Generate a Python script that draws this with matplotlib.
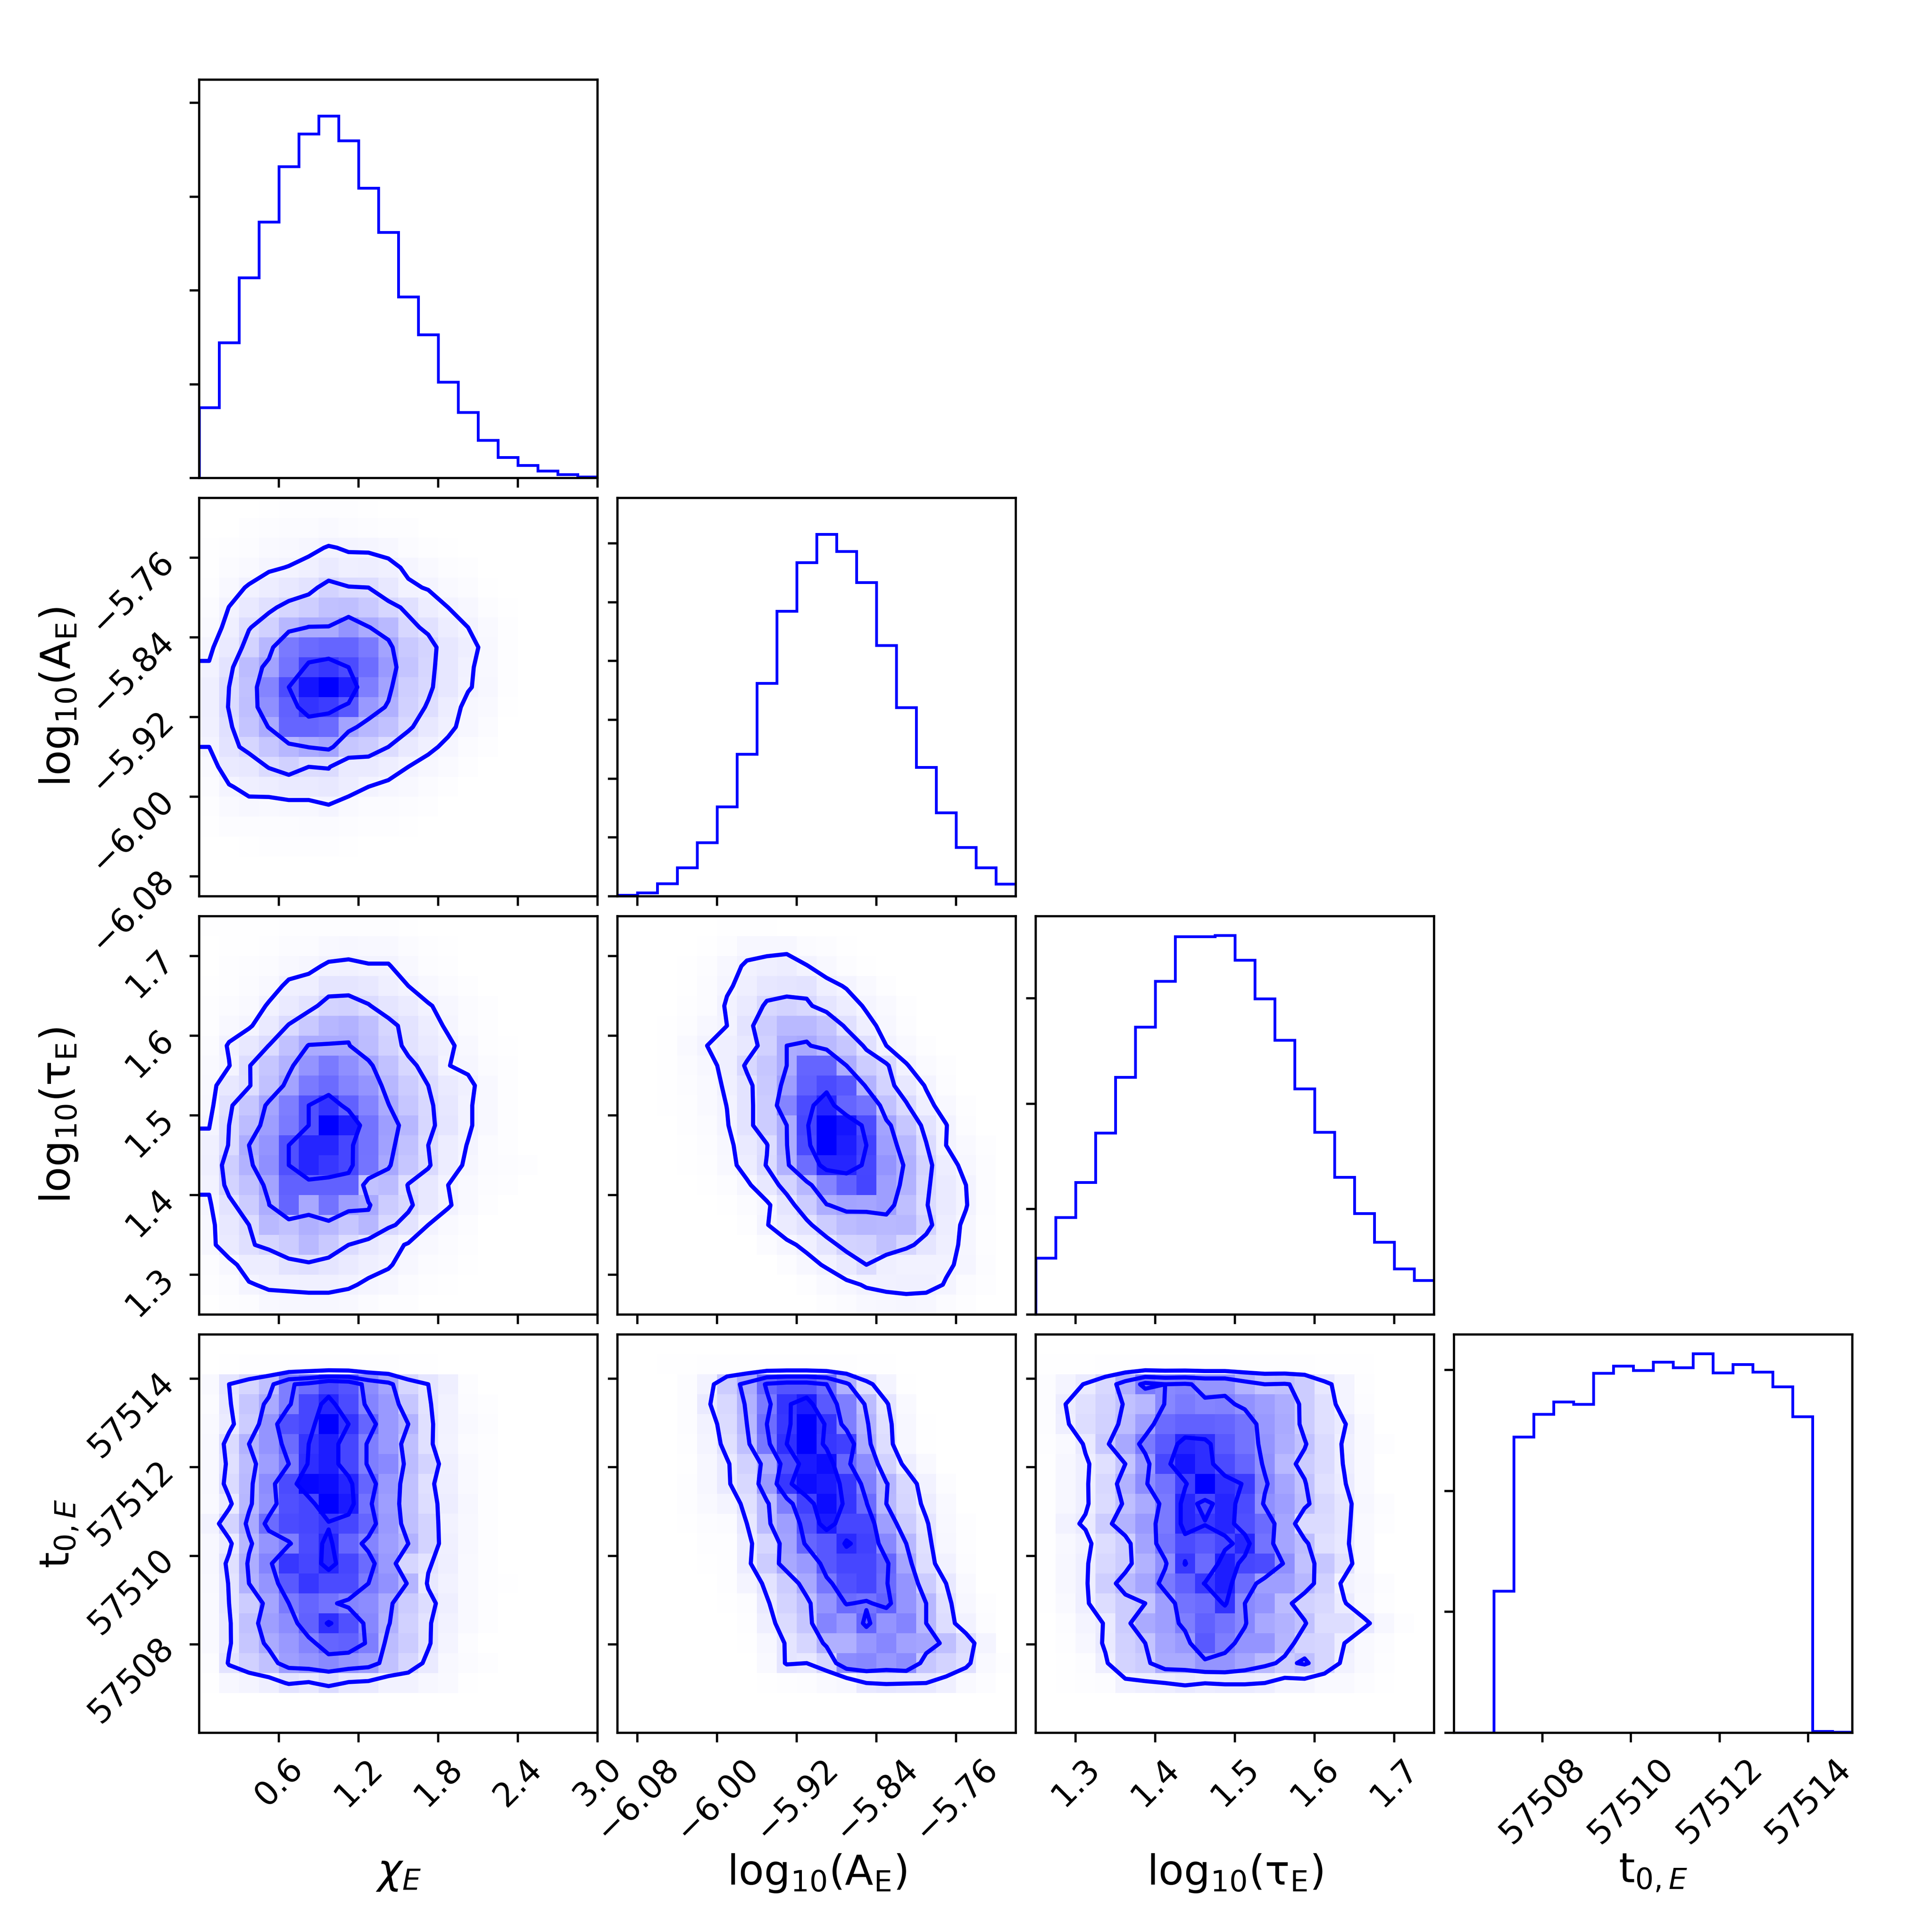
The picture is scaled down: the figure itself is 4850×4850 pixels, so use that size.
"""
Corner plot of the four event parameters: step histograms on the diagonal,
2D density cells with four contour levels below it.
"""

import numpy as np
import matplotlib
matplotlib.use("Agg")
import matplotlib.pyplot as plt
from matplotlib.colors import LinearSegmentedColormap


# -------------------------------------------------------------------
# DATA
# -------------------------------------------------------------------
labels = [r"$\chi_{E}$", r"$\mathrm{log_{10}(A_{E})}$",
          r"$\mathrm{log_{10}(\tau_{E})}$", r"$\mathrm{t}_{0,E}$"]
ranges = [(0.0, 3.0), (-6.10, -5.70), (1.25, 1.75), (57506.0, 57515.0)]
ticks = [[0.6, 1.2, 1.8, 2.4, 3.0],
         [-6.08, -6.00, -5.92, -5.84, -5.76],
         [1.3, 1.4, 1.5, 1.6, 1.7],
         [57508, 57510, 57512, 57514]]
tick_text = [["0.6", "1.2", "1.8", "2.4", "3.0"],
             ["\u22126.08", "\u22126.00", "\u22125.92", "\u22125.84", "\u22125.76"],
             ["1.3", "1.4", "1.5", "1.6", "1.7"],
             ["57508", "57510", "57512", "57514"]]

# diagonal histograms, 20 bins each
hist_chi = [754, 1445, 2138, 2731, 3324, 3669, 3862, 3597, 3094, 2619,
            1934, 1528, 1025, 699, 403, 222, 135, 78, 40, 14]
hist_amp = [23, 64, 216, 486, 913, 1523, 2417, 3624, 4849, 5674,
            6156, 5867, 5339, 4266, 3211, 2197, 1422, 835, 486, 211]
hist_tau = [537, 923, 1253, 1724, 2251, 2726, 3164, 3586, 3586, 3596,
            3361, 2997, 2604, 2143, 1729, 1304, 959, 688, 435, 325]
hist_t0 = [0, 0, 1173, 2446, 2636, 2736, 2716, 2975, 3033, 2997,
           3068, 3022, 3135, 2977, 3046, 2986, 2863, 2614, 13, 7]
hist_top = [4248, 6772, 3778, 3294]
hist_ticks = [[0, 1000, 2000, 3000, 4000],
              [0, 1000, 2000, 3000, 4000, 5000, 6000],
              [0, 1000, 2000, 3000],
              [0, 1000, 2000, 3000]]

# 2D cells as percent of full shade, top row first, trailing zeros left out
shade_amp_chi = [
    [0, 0, 0, .3, .5, .5, .5, .5, .3],
    [0, 0, .5, 1, 1.5, 1.5, 2, 1.5, 1, .5, .5],
    [.2, .8, 1, 2, 2.5, 3.5, 4.7, 4, 3.8, 3, 1.5, .8, .3],
    [.3, 1.5, 2, 3.8, 4.6, 5.7, 8, 6, 6.5, 5.8, 3.6, 2, 1, .4],
    [.6, 2.5, 5, 7, 9, 11, 17, 14, 13.5, 9, 5.1, 4.1, 2, 1.5, .3],
    [1.2, 4.5, 8.5, 12, 16, 19, 24, 25, 21, 16, 12, 7, 4.4, 3, 1, .3],
    [2.2, 6, 13, 18, 28, 33, 33, 42, 33, 27, 15.8, 11.8, 7, 4.4, 2, .6],
    [3.6, 8, 17, 28, 52, 58, 60, 60, 52, 36, 21, 16.8, 9.5, 6.5, 2.8, .8],
    [4.8, 11, 26, 36, 55, 74, 78, 70, 57, 40, 23, 16, 9.2, 5.2, 2.7, .6],
    [6, 13.5, 24, 48, 70, 92, 100, 88, 50, 36, 19, 15, 9.2, 4.8, 2.9, .5],
    [6, 14, 25, 44, 62, 80, 76, 66, 40, 31, 18, 12.7, 7, 3.2, 2, .3],
    [5.5, 12, 23, 33, 60, 60, 58, 36, 28, 24, 15, 9, 5.5, 2.9, 1.2],
    [4.4, 11, 16, 22, 28, 33, 36, 22, 20, 13.5, 8.5, 5.5, 3.4, 1.5, .5],
    [2.2, 8, 9, 14, 18, 13.5, 14, 8, 8, 6.5, 4.4, 2.9, 1.8, .6],
    [1.5, 4, 6, 7, 8, 8, 9, 7, 4.4, 3.5, 2.5, 1.5, .8],
    [.7, 2, 3, 2.5, 3, 3, 4, 2.3, 1.5, 1.5, 1, .6],
    [.3, 1, 1, 1, 1, 1.5, 1.5, 1, .5, .5, .3],
    [0, 0, .3, .5, .5, .5, .5, .3],
    [],
    [],
]
shade_tau_chi = [
    [.1, .1, .1, .3, .5, .5, .8, .8, .5, .5, .3],
    [0, .1, .3, .6, 1.5, 1.5, 2.5, 3, 2.5, 2.5, 1.5, .6, .2],
    [0, .5, 1, 1.5, 2.5, 3.5, 5, 5.2, 4.7, 4.7, 2.5, 1, .5],
    [.3, .8, 1.5, 2.5, 5.5, 6, 10, 10, 9, 6, 4.4, 2.5, 1.5, .4],
    [.5, 1.2, 2, 5, 8, 11, 17, 18, 14, 10, 7.5, 4.8, 3, 1.5, .5],
    [.8, 2.5, 3.8, 8, 14, 21, 28, 30, 25, 16, 11, 7, 3.6, 1.5, .5],
    [1.5, 4.9, 9, 13.6, 24, 33, 33, 33, 26, 18, 11.5, 8, 5.5, 2.5, .8, .3],
    [2, 4.2, 13, 22, 30, 42, 52, 44, 35, 24, 15.5, 11, 4.5, 3.5, 1.2, .5],
    [2.5, 9, 12.8, 24, 36, 52, 58, 48, 42, 28, 20, 13.5, 8, 5.6, 2.5, .8],
    [3, 12, 22, 35, 50, 68, 80, 62, 48, 33, 22, 15, 9.5, 5, 2.5, .8],
    [4.2, 13.5, 26, 38, 52, 68, 100, 88, 55, 38, 28, 15.5, 10, 5, 2.5, .8],
    [5.5, 14, 32.5, 42, 68, 85, 85, 72, 55, 37, 24, 13.5, 7, 4.2, 1.5, .5],
    [6, 19, 30, 44, 68, 85, 78, 72, 54, 34, 22, 14.5, 7, 3.5, 1.5, 1, .5],
    [5, 17, 24, 36, 62, 62, 62, 62, 24, 26, 13, 9, 4.4, 2, 1, .5],
    [3.8, 11, 20, 32, 60, 34, 55, 38, 34, 20, 15, 9, 5, 2, .5],
    [3, 9, 13.5, 27, 24, 31, 27.6, 22, 28, 15, 11, 4.4, 2, 1],
    [3, 8, 12.5, 16, 20, 27, 21, 13.5, 9, 6.5, 3.9, 2.5, 1.5, .5],
    [1, 3, 7, 7, 11, 12, 10, 8, 6, 4.8, 3, 1.5, 1, .3],
    [.5, 1.2, 4, 5.2, 5.2, 5.5, 5.5, 5, 3.7, 3, 1.5, .8, .3],
    [0, .5, 1, 2.5, 3, 3, 3, 2.5, 1.5, .8, .4],
]
shade_tau_amp = [
    [0, 0, 0, 0, 0, .3, .3, .3],
    [0, 0, 0, 0, .3, 1, 3, 3, 3, 1.5, 1, .3],
    [0, 0, 0, .2, 1, 3, 5, 6, 7, 4.6, 2.5, 1, .3],
    [0, 0, 0, .3, 1.5, 3.8, 6, 9.5, 10, 11, 6, 4, 2, .8],
    [0, 0, 0, .5, 1.5, 5, 8, 15, 17, 15, 10, 7, 3.8, 2, .5],
    [0, 0, .2, 1, 3, 4.4, 11, 20, 27, 27, 23, 12, 6, 3, 1],
    [0, 0, .2, 2, 4.4, 6, 9, 18, 32.5, 34, 27, 22, 12, 4.4, 2, .6],
    [0, 0, .2, 1.5, 3, 6, 15, 22, 32.5, 60, 60, 32.5, 20, 15, 4.8, 1.8, .4],
    [0, 0, .2, 1, 2, 5.5, 11, 21, 38, 62, 70, 66, 30, 17, 9, 4, 1],
    [0, 0, .1, .5, 2, 4.5, 11, 20, 48, 70, 85, 60, 55, 24, 14.5, 6, 2.5, .5],
    [0, 0, 0, .5, 1.5, 4, 11, 20, 32.5, 73, 100, 92, 70, 36, 22, 11, 4.6, 1],
    [0, 0, 0, .3, 1, 3, 8, 13, 32, 70, 100, 88, 75, 38, 28, 14, 4.4, 2, .4],
    [0, 0, 0, .2, .5, 2.5, 7, 14, 30, 57, 85, 85, 72, 42, 31, 17, 7, 3, 1],
    [0, 0, 0, 0, .2, 1, 3.5, 9, 17, 28, 48, 62, 73, 38, 30, 15, 8, 4.4, 1],
    [0, 0, 0, 0, 0, .3, 1.5, 3.5, 10, 20, 32, 36, 35, 38, 25, 14, 8, 4.7, 1],
    [0, 0, 0, 0, 0, 0, .8, 4.2, 7.5, 11.5, 20, 26, 28, 27, 28, 17, 7, 3.5, .8],
    [0, 0, 0, 0, 0, 0, 0, 1.5, 3.5, 5.5, 10, 17, 18, 24, 16, 10, 6, 3.5, .8],
    [0, 0, 0, 0, 0, 0, 0, 0, 1, 3, 5, 8, 13.5, 6, 5, 5, 4.8, 3.8, 1],
    [0, 0, 0, 0, 0, 0, 0, 0, 0, .8, 2, 3.5, 4.8, 5.3, 5.5, 5.5, 4.2, 1.5, .5],
    [0, 0, 0, 0, 0, 0, 0, 0, 0, 0, .8, 1.5, 2.5, 3, 3.3, 3, 1.2, .5],
]
shade_t0_chi = [
    [],
    [0, .3, .5, .5, .5, .8, .8, .8, .5, .4, .2, .2],
    [2, 10, 16, 25, 50, 57, 72, 67, 45, 35, 16, 10, 6, 1],
    [1.5, 9, 22, 33, 50, 72, 85, 70, 48, 40, 22, 11, 5, 1.5, .5],
    [2, 7.5, 20, 42, 68, 72, 100, 80, 60, 40, 30, 12, 5, 2, 1],
    [2.5, 14, 30, 42, 58, 80, 88, 72, 50, 40, 25, 12, 4.5, 1.5, .5],
    [2.5, 12, 26, 38, 52, 82, 88, 72, 50, 46, 26, 17, 5.5, 2, .5],
    [2.5, 14, 27, 45, 70, 97, 95, 85, 60, 40, 24, 12, 6, 2, .5],
    [2, 8, 28, 43, 68, 72, 100, 90, 55, 38, 24, 13, 7, 3, .5],
    [5, 17, 33, 58, 70, 72, 78, 72, 60, 40, 25, 17, 5, 2.5, .5],
    [3, 8, 28, 42, 50, 70, 85, 60, 48, 38, 30, 17, 5.5, 2.5, .5],
    [3, 12, 32, 48, 78, 72, 85, 72, 58, 40, 16, 11, 6, 2, .5],
    [2.5, 10.5, 30, 42, 65, 78, 70, 70, 52, 43, 29, 9, 5, 2, .5, .3],
    [2, 10, 20, 35, 52, 60, 55, 48, 45, 33, 20, 13, 6, 2, .5],
    [2, 9, 24, 38, 45, 62, 82, 68, 47, 31, 18, 11, 5, 2, .5],
    [2, 9, 22, 33, 40, 48, 60, 62, 50, 26, 20, 11, 4, 1],
    [1, 11, 18, 24, 38, 42, 46, 42, 38, 24, 16, 8, 2.5, 1.5, .5],
    [.3, 3, 4, 6, 11, 9, 14, 9, 8, 5, 5, 3, 2, .3],
    [],
    [],
]
shade_t0_amp = [
    [],
    [0, 0, .2, .3, .5, .5, .5, .5, .5, .5, .5, .5, .3, .2],
    [0, 0, 0, 1, 5, 20, 33, 60, 67, 67, 57, 31, 12, 4, .3],
    [0, 0, 0, 1, 8, 15, 30, 52, 80, 90, 65, 50, 26, 10, 2],
    [0, 0, 0, 1, 5, 14, 28, 57, 78, 100, 80, 50, 30, 12, 3, .3],
    [0, 0, 0, .5, 4, 12, 25, 53, 82, 100, 78, 75, 33, 13, 3, .3],
    [0, 0, 0, .3, 3, 8, 18, 33, 70, 90, 95, 60, 45, 18, 7, 2],
    [0, 0, 0, .5, 3, 8, 15, 40, 78, 95, 90, 78, 50, 29, 15, 5, 1],
    [0, 0, 0, .6, 2, 4, 12, 26, 50, 75, 95, 79, 58, 28, 16, 7, 2],
    [0, 0, 0, .2, 1, 1.5, 9, 26, 38, 68, 90, 72, 72, 38, 20, 10, 2.5, .5],
    [0, 0, 0, 0, .5, .5, 7, 16, 36, 60, 66, 84, 75, 47, 28, 12, 3, .5],
    [0, 0, 0, 0, .3, .5, 7, 20, 34, 40, 66, 72, 72, 60, 35, 13, 5, 1],
    [0, 0, 0, 0, 0, .5, 4, 11, 20, 34, 53, 68, 72, 58, 42, 20, 9, 2],
    [0, 0, 0, 0, 0, .2, 1, 8, 17, 25, 42, 58, 55, 62, 42, 28, 12, 3, .5],
    [0, 0, 0, 0, 0, 0, .5, 6, 14, 22, 48, 40, 61, 42, 48, 28, 13, 5, 1],
    [0, 0, 0, 0, 0, 0, .3, 3, 10, 16, 31, 31, 41, 47, 37, 35, 25, 14, 4],
    [0, 0, 0, 0, 0, 0, 0, 2, 10, 9, 16, 45, 47, 41, 45, 22, 17, 12, 2, .5],
    [0, 0, 0, 0, 0, 0, 0, .2, .5, 1, 2, 3, 9, 10, 9.5, 9, 6, 2, 1],
    [],
    [],
]
shade_t0_tau = [
    [],
    [.2, .3, .3, .4, .4, .5, .5, .5, .5, .5, .5, .5, .5, .4, .3, .2, .1],
    [1, 4, 7.5, 15, 31, 52, 46, 48, 42, 42, 30, 23, 24, 20, 9, 4, .5],
    [1, 7, 12, 17, 24, 28, 47, 52, 48, 49, 43, 38, 32, 20, 12, 4, 1],
    [1, 6, 13, 18, 26, 38, 58, 62, 62, 60, 55, 40, 33, 20, 12, 7.5, 2],
    [.5, 2, 8, 21, 34, 52, 65, 85, 82, 65, 55, 42, 32, 24, 14, 6, 2, .5],
    [.3, 3, 6, 12, 23, 40, 72, 92, 82, 70, 60, 44, 27, 20, 14, 6.5, 2],
    [.2, 3, 6, 15, 30, 45, 55, 75, 100, 82, 76, 48, 35, 24, 12, 7.5, 2],
    [.2, 3, 6, 14, 25, 33, 52, 85, 72, 85, 70, 44, 38, 26, 15, 10, 3, 1],
    [.3, 5, 8, 20, 30, 40, 52, 85, 78, 85, 68, 58, 35, 14, 14, 10, 2, .5],
    [.3, 2.5, 5, 13, 19, 36, 55, 70, 65, 72, 85, 55, 35, 26, 12, 9, 2],
    [.2, 3, 6, 15, 20, 30, 44, 78, 58, 88, 72, 70, 44, 24, 22, 12, 2],
    [.3, 3, 6, 19, 27, 35, 52, 62, 78, 88, 58, 38, 38, 28, 18, 5, 3, 1],
    [.2, 2, 6, 13, 20, 23, 38, 55, 58, 80, 46, 42, 26, 18, 15, 7.5, 2.5, .5],
    [0, 1, 4, 7.5, 20, 33, 38, 50, 62, 55, 47, 34, 30, 24, 13, 13, 9, 3, .5],
    [0, .8, 3, 8, 18, 23, 35, 40, 65, 50, 42, 42, 29, 17, 16, 7, 2, 1],
    [0, .3, 1, 6, 17, 20, 33, 33, 42, 42, 35, 27, 20, 25, 16, 5, 2, .5],
    [0, .2, .5, 1, 5, 6, 7, 9, 7.2, 8, 8, 7, 4, 4, 2, 2, 1, .3],
    [],
    [],
]

# contour levels of each panel, same percent scale as the cells
levels_amp_chi = [4.4, 13.5, 32.5, 70]
levels_tau_chi = [4.4, 13.5, 32.5, 68]
levels_tau_amp = [4.4, 13.5, 32.5, 75]
levels_t0_chi = [10, 30, 52, 80]
levels_t0_amp = [9, 28, 57, 82]
levels_t0_tau = [7, 23, 46, 77]

diagonal = [hist_chi, hist_amp, hist_tau, hist_t0]
panels = {
    (1, 0): (shade_amp_chi, levels_amp_chi),
    (2, 0): (shade_tau_chi, levels_tau_chi),
    (2, 1): (shade_tau_amp, levels_tau_amp),
    (3, 0): (shade_t0_chi, levels_t0_chi),
    (3, 1): (shade_t0_amp, levels_t0_amp),
    (3, 2): (shade_t0_tau, levels_t0_tau),
}

COLOR = "blue"
N_BINS = 20
density_cmap = LinearSegmentedColormap.from_list(
    "density_cmap", [COLOR, (1, 1, 1, 0)])


# -------------------------------------------------------------------
# HELPERS
# -------------------------------------------------------------------
def to_grid(rows):
    # pad rows to 20 cells, flip so row 0 is the lowest y bin
    grid = np.zeros((N_BINS, N_BINS))
    for i, row in enumerate(rows):
        grid[N_BINS - 1 - i, :len(row)] = row
    return grid


def padded(H, xc, yc):
    # same two-bin padding corner uses, so contours run out to the frame
    H2 = np.zeros((N_BINS + 4, N_BINS + 4))
    H2[2:-2, 2:-2] = H
    H2[2:-2, 1] = H[:, 0]
    H2[2:-2, -2] = H[:, -1]
    H2[1, 2:-2] = H[0]
    H2[-2, 2:-2] = H[-1]
    H2[1, 1] = H[0, 0]
    H2[1, -2] = H[0, -1]
    H2[-2, 1] = H[-1, 0]
    H2[-2, -2] = H[-1, -1]
    dx = xc[1] - xc[0]
    dy = yc[1] - yc[0]
    x2 = np.concatenate([xc[0] - np.array([2, 1]) * dx, xc,
                         xc[-1] + np.array([1, 2]) * dx])
    y2 = np.concatenate([yc[0] - np.array([2, 1]) * dy, yc,
                         yc[-1] + np.array([1, 2]) * dy])
    return x2, y2, H2


def draw_density(ax, rows, levels, xr, yr):
    # the cmap fades alpha too, so a shade s needs a density of sqrt(s)
    H = np.sqrt(to_grid(rows) / 100.0)
    xe = np.linspace(xr[0], xr[1], N_BINS + 1)
    ye = np.linspace(yr[0], yr[1], N_BINS + 1)
    ax.pcolormesh(xe, ye, H.max() - H, cmap=density_cmap, vmin=0, vmax=H.max())
    xc = 0.5 * (xe[1:] + xe[:-1])
    yc = 0.5 * (ye[1:] + ye[:-1])
    x2, y2, H2 = padded(H, xc, yc)
    ax.contour(x2, y2, H2, np.sqrt(np.array(levels) / 100.0),
               colors=COLOR, linewidths=1.5)


# -------------------------------------------------------------------
# FIGURE
# -------------------------------------------------------------------
fig, axes = plt.subplots(4, 4, figsize=(9.7, 9.7))
fig.subplots_adjust(left=1.0 / 9.7, right=9.3 / 9.7, bottom=1.0 / 9.7,
                    top=9.3 / 9.7, wspace=0.05, hspace=0.05)

for i in range(4):
    for j in range(4):
        ax = axes[i, j]
        if j > i:
            ax.set_frame_on(False)
            ax.set_xticks([])
            ax.set_yticks([])
            continue

        if i == j:
            edges = np.linspace(ranges[i][0], ranges[i][1], N_BINS + 1)
            ax.hist(0.5 * (edges[1:] + edges[:-1]), bins=edges,
                    weights=diagonal[i], histtype="step", color=COLOR, lw=1.0)
            ax.set_ylim(0, hist_top[i])
            ax.set_yticks(hist_ticks[i])
            ax.set_yticklabels([])
        else:
            rows, levels = panels[(i, j)]
            draw_density(ax, rows, levels, ranges[j], ranges[i])
            ax.set_ylim(*ranges[i])
            ax.set_yticks(ticks[i])
            if j == 0:
                ax.set_yticklabels(tick_text[i], rotation=45, fontsize=12)
                ax.set_ylabel(labels[i], fontsize=15)
                ax.yaxis.set_label_coords(-0.3, 0.5)
            else:
                ax.set_yticklabels([])

        ax.set_xlim(*ranges[j])
        ax.set_xticks(ticks[j])
        if i == 3:
            ax.set_xticklabels(tick_text[j], rotation=45, fontsize=12)
            ax.set_xlabel(labels[j], fontsize=15)
            ax.xaxis.set_label_coords(0.5, -0.3)
        else:
            ax.set_xticklabels([])

fig.savefig("out.png", dpi=500)
